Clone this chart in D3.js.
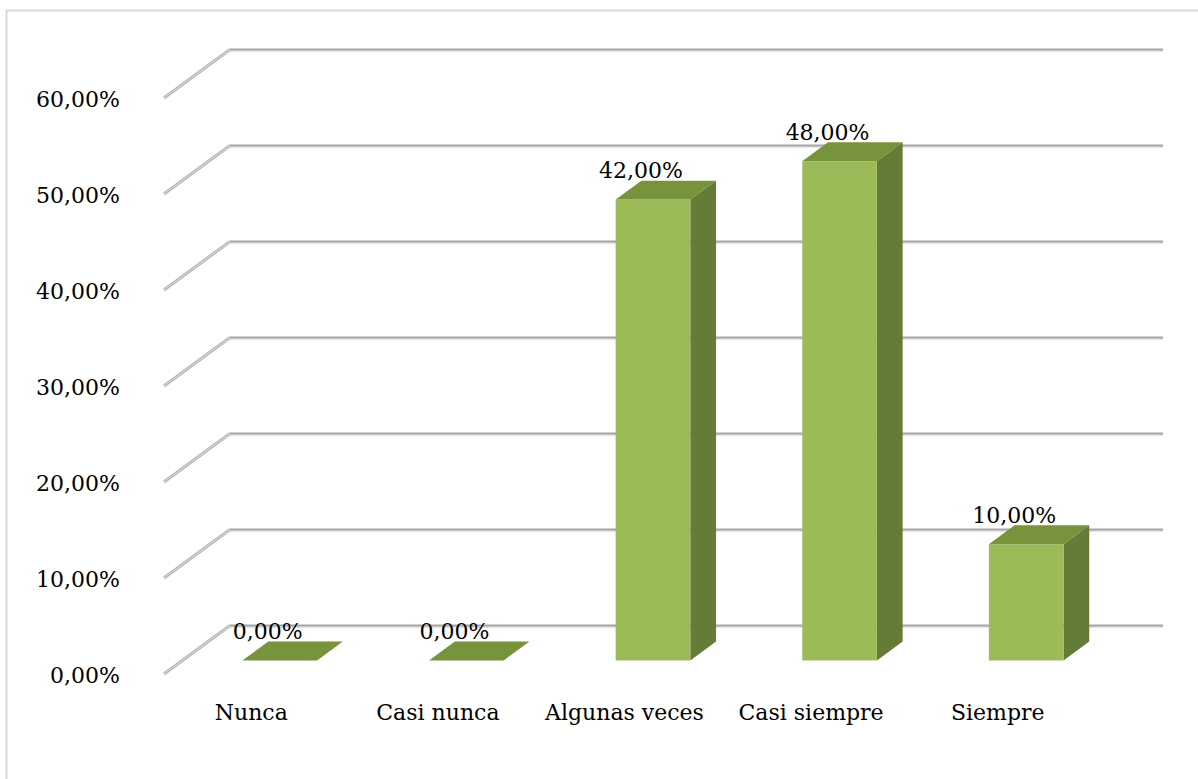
<!DOCTYPE html>
<html>
<head>
<meta charset="utf-8">
<script src="https://cdn.jsdelivr.net/npm/d3@7"></script>
<style>
  body { margin: 0; background: #fff; }
</style>
</head>
<body>
<div id="chart"></div>
<script>
// data
var categories = ["Nunca", "Casi nunca", "Algunas veces", "Casi siempre", "Siempre"];
var barHeights = [0, 0, 48, 52, 12.1];          // heights of the columns against the axis
var valueLabels = ["0,00%", "0,00%", "42,00%", "48,00%", "10,00%"];
var ticks = [0, 10, 20, 30, 40, 50, 60];
var tickLabels = ["0,00%", "10,00%", "20,00%", "30,00%", "40,00%", "50,00%", "60,00%"];

var W = 1198, H = 779;
var floorLeft = 164, floorRight = 1097;
var depthX = 66, depthY = 48.5;   // offset from front plane to back wall
var z0 = 0.28, z1 = 0.67;         // front and back of the columns
var serif = "'DejaVu Serif', 'Liberation Serif', serif";

var svg = d3.select("#chart")
  .append("svg")
    .attr("width", W)
    .attr("height", H)
    .style("font-family", serif);

// outer frame (only top and left visible)
svg.append("path")
  .attr("d", "M6.5,779 L6.5,10.5 L1198,10.5")
  .attr("fill", "none")
  .attr("stroke", "#d9d9d9")
  .attr("stroke-width", 2);

var y = d3.scaleLinear().domain([0, 60]).range([674, 98]);
var x = d3.scaleBand().domain(categories).range([floorLeft + 4, floorRight + 4]);

function proj(px, v, z) {
  return [px + z * depthX, y(v) - z * depthY];
}

// gridlines: diagonal on the side wall + horizontal on the back wall
var grid = svg.append("g");
ticks.forEach(function(t) {
  var a = [floorLeft, y(t)], b = [floorLeft + depthX, y(t) - depthY], c = [floorRight + depthX, y(t) - depthY];
  grid.append("line")
    .attr("x1", a[0]).attr("y1", a[1]).attr("x2", b[0]).attr("y2", b[1])
    .attr("stroke", "#b0b0b0").attr("stroke-width", 3);
  grid.append("line")
    .attr("x1", a[0]).attr("y1", a[1]).attr("x2", b[0]).attr("y2", b[1])
    .attr("stroke", "#e4e4e4").attr("stroke-width", 1);
  grid.append("line")
    .attr("x1", b[0]).attr("y1", b[1] + 1.5).attr("x2", c[0]).attr("y2", c[1] + 1.5)
    .attr("stroke", "#dadada").attr("stroke-width", 1.5);
  grid.append("line")
    .attr("x1", b[0]).attr("y1", b[1]).attr("x2", c[0]).attr("y2", c[1])
    .attr("stroke", "#a6a6a6").attr("stroke-width", 2);
});

// y axis labels
svg.append("g")
  .selectAll("text")
  .data(ticks)
  .enter()
  .append("text")
    .attr("x", 120)
    .attr("y", function(d) { return y(d) + 8.5; })
    .attr("text-anchor", "end")
    .style("font-size", "22px")
    .text(function(d, i) { return tickLabels[i]; });

// columns
var bw = x.bandwidth() * 0.4;
var bars = svg.append("g")
  .selectAll("g")
  .data(categories)
  .enter()
  .append("g");

function pts(list) {
  return list.map(function(p) { return p[0] + "," + p[1]; }).join(" ");
}

bars.each(function(d, i) {
  var g = d3.select(this);
  var cx = x(d) + x.bandwidth() / 2;
  var l = cx - bw / 2, r = cx + bw / 2, v = barHeights[i];
  var fbl = proj(l, 0, z0), fbr = proj(r, 0, z0), ftl = proj(l, v, z0), ftr = proj(r, v, z0);
  var bbr = proj(r, 0, z1), btl = proj(l, v, z1), btr = proj(r, v, z1);
  // side
  g.append("polygon")
    .attr("points", pts([fbr, ftr, btr, bbr]))
    .attr("fill", "#647c37");
  // front
  g.append("polygon")
    .attr("points", pts([fbl, fbr, ftr, ftl]))
    .attr("fill", "#9bbb59");
  // top
  g.append("polygon")
    .attr("points", pts([ftl, ftr, btr, btl]))
    .attr("fill", "#77933c");
});

// value labels
svg.append("g")
  .selectAll("text")
  .data(categories)
  .enter()
  .append("text")
    .attr("x", function(d) { return proj(x(d) + x.bandwidth() / 2, 0, z0)[0] - 12; })
    .attr("y", function(d, i) { return proj(0, barHeights[i], z1)[1] - 2.5; })
    .attr("text-anchor", "middle")
    .style("font-size", "22px")
    .text(function(d, i) { return valueLabels[i]; });

// category labels
svg.append("g")
  .selectAll("text")
  .data(categories)
  .enter()
  .append("text")
    .attr("x", function(d) { return x(d) + x.bandwidth() / 2 - 10; })
    .attr("y", 720)
    .attr("text-anchor", "middle")
    .style("font-size", "22px")
    .text(function(d) { return d; });
</script>
</body>
</html>
